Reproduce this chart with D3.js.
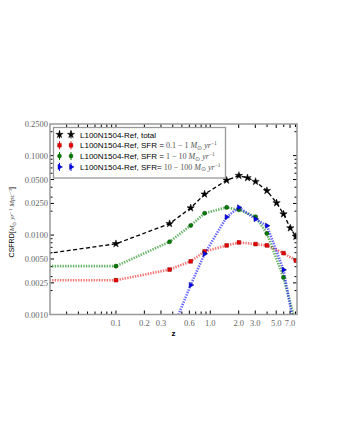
<!DOCTYPE html>
<html>
<head>
<meta charset="utf-8">
<script src="https://cdn.jsdelivr.net/npm/d3@7"></script>
<style>
    body { margin: 0; background: #fff; }
</style>
</head>
<body>
<div id="chart"></div>
<script>
// redshifts of the snapshots
var zTotal = [0.01, 0.1, 0.37, 0.62, 0.87, 1.49, 2.01, 2.48, 3.02, 3.98, 5.04, 5.97, 7.05, 8.07];
var csfrdTotal = [0.00527, 0.00776, 0.0139, 0.0219, 0.0327, 0.0489, 0.0561, 0.0525, 0.0471, 0.0362, 0.0254, 0.0184, 0.01225, 0.0096];

var zBins = [0.001, 0.1, 0.37, 0.62, 0.87, 1.49, 2.01, 3.02, 3.98, 5.97, 8.07];
var csfrdLow = [0.0027, 0.0027, 0.00368, 0.00467, 0.00621, 0.0074, 0.00807, 0.0077, 0.0074, 0.00593, 0.00477];
var csfrdMid = [0.00406, 0.00406, 0.00822, 0.0132, 0.0188, 0.0223, 0.0208, 0.017, 0.01047, 0.00292, 0.00077];

var zHigh = [0.37, 0.62, 0.87, 1.49, 2.01, 3.02, 3.98, 5.97, 8.07];
var csfrdHigh = [0.00053, 0.00235, 0.00581, 0.01686, 0.0223, 0.0159, 0.0131, 0.00365, 0.00054];

var xTickLabels = [0.1, 0.2, 0.3, 0.6, 1.0, 2.0, 3.0, 5.0, 7.0];
var yTickLabels = [0.001, 0.0025, 0.005, 0.01, 0.025, 0.05, 0.1, 0.25];

var legendLabels = [
    { text: "L100N1504-Ref, total", math: "" },
    { text: "L100N1504-Ref, SFR = ", math: "0.1 \u2212 1" },
    { text: "L100N1504-Ref, SFR = ", math: "1 \u2212 10" },
    { text: "L100N1504-Ref, SFR= ", math: "10 \u2212 100" }
];

function init() {
    var w = 340;
    var h = 440;
    var left = 50, right = 297, top = 124, bottom = 314.5;

    var svg = d3.select("#chart")
        .append("svg")
        .attr("width", w)
        .attr("height", h);

    var x = d3.scaleLog().domain([0.02, 8.3]).range([left, right]);
    var y = d3.scaleLog().domain([0.001, 0.25]).range([bottom, top]);

    svg.append("clipPath")
        .attr("id", "plotclip")
        .append("rect")
        .attr("x", left)
        .attr("y", top)
        .attr("width", right - left)
        .attr("height", bottom - top);

    // minor ticks: every 1..9 x 10^k inside the domain
    function minorTicks(domain) {
        var t = [];
        for (var e = -4; e <= 1; e++) {
            for (var m = 1; m <= 9; m++) {
                var v = m * Math.pow(10, e);
                if (v > domain[0] * 1.0001 && v < domain[1] * 0.9999) t.push(v);
            }
        }
        return t;
    }

    var xMinor = minorTicks(x.domain());
    var yMinor = minorTicks(y.domain());

    var ticks = svg.append("g").attr("stroke", "#000").attr("stroke-width", 1);

    // x ticks, bottom and top, pointing inward
    ticks.selectAll(".xb")
        .data(xMinor)
        .enter()
        .append("line")
        .attr("x1", function (d) { return x(d); })
        .attr("x2", function (d) { return x(d); })
        .attr("y1", bottom)
        .attr("y2", function (d) { return xTickLabels.indexOf(+d.toFixed(2)) >= 0 ? bottom - 4 : bottom - 3; });
    ticks.selectAll(".xt")
        .data(xMinor)
        .enter()
        .append("line")
        .attr("x1", function (d) { return x(d); })
        .attr("x2", function (d) { return x(d); })
        .attr("y1", top)
        .attr("y2", function (d) { return xTickLabels.indexOf(+d.toFixed(2)) >= 0 ? top + 4 : top + 3; });

    // y ticks, left and right
    var yAll = yMinor.concat([0.0025, 0.025]);
    ticks.selectAll(".yl")
        .data(yAll)
        .enter()
        .append("line")
        .attr("y1", function (d) { return y(d); })
        .attr("y2", function (d) { return y(d); })
        .attr("x1", left)
        .attr("x2", function (d) { return isMajorY(d) ? left + 4 : left + 2.5; });
    ticks.selectAll(".yr")
        .data(yAll)
        .enter()
        .append("line")
        .attr("y1", function (d) { return y(d); })
        .attr("y2", function (d) { return y(d); })
        .attr("x1", right)
        .attr("x2", function (d) { return isMajorY(d) ? right - 4 : right - 2.5; });

    function isMajorY(d) {
        for (var i = 0; i < yTickLabels.length; i++) {
            if (Math.abs(d / yTickLabels[i] - 1) < 1e-6) return true;
        }
        return false;
    }

    // tick labels
    svg.selectAll(".xlab")
        .data(xTickLabels)
        .enter()
        .append("text")
        .text(function (d) { return d.toFixed(1); })
        .attr("x", function (d) { return x(d); })
        .attr("y", bottom + 11.5)
        .attr("text-anchor", "middle")
        .attr("font-family", "Liberation Serif, serif")
        .attr("font-size", "8.5px")
        .attr("fill", "#666");

    svg.selectAll(".ylab")
        .data(yTickLabels)
        .enter()
        .append("text")
        .text(function (d) { return d.toFixed(4); })
        .attr("x", left - 2)
        .attr("y", function (d) { return y(d) + 3; })
        .attr("text-anchor", "end")
        .attr("font-family", "Liberation Serif, serif")
        .attr("font-size", "8.5px")
        .attr("fill", "#666");

    // axis titles
    svg.append("text")
        .text("z")
        .attr("x", (left + right) / 2)
        .attr("y", bottom + 21)
        .attr("text-anchor", "middle")
        .attr("font-family", "Liberation Sans, sans-serif")
        .attr("font-weight", "bold")
        .attr("font-size", "8px");

    var ylab = svg.append("text")
        .attr("transform", "translate(14," + ((top + bottom) / 2 + 3) + ") rotate(-90)")
        .attr("text-anchor", "middle")
        .attr("font-family", "Liberation Sans, sans-serif")
        .attr("font-size", "7px");
    ylab.append("tspan").text("CSFRD[");
    ylab.append("tspan").attr("font-family", "Liberation Serif, serif").attr("font-style", "italic").attr("fill", "#444").text("M");
    ylab.append("tspan").attr("font-family", "Liberation Serif, serif").attr("font-size", "5px").attr("dy", 1.5).attr("fill", "#444").text("\u2299");
    ylab.append("tspan").attr("font-family", "Liberation Serif, serif").attr("font-style", "italic").attr("dy", -1.5).attr("fill", "#444").text(" yr");
    ylab.append("tspan").attr("font-family", "Liberation Serif, serif").attr("font-size", "5px").attr("dy", -2.5).attr("fill", "#444").text("\u22121");
    ylab.append("tspan").attr("font-family", "Liberation Serif, serif").attr("font-style", "italic").attr("dy", 2.5).attr("fill", "#444").text(" Mpc");
    ylab.append("tspan").attr("font-family", "Liberation Serif, serif").attr("font-size", "5px").attr("dy", -2.5).attr("fill", "#444").text("\u22123");
    ylab.append("tspan").attr("dy", 2.5).text("]");

    // series
    var plot = svg.append("g").attr("clip-path", "url(#plotclip)");

    var series = [
        { z: zTotal, v: csfrdTotal, color: "#000", edge: "#000", dash: "4,2.5", width: 1.3, opacity: 1, marker: d3.symbolStar, size: 17 },
        { z: zBins, v: csfrdLow, color: "#ee0000", edge: "#800000", dash: "1.4,1.2", width: 2.6, opacity: 0.55, marker: d3.symbolSquare, size: 14 },
        { z: zBins, v: csfrdMid, color: "#008000", edge: "#003300", dash: "1.4,1.2", width: 2.6, opacity: 0.6, marker: d3.symbolCircle, size: 13 },
        { z: zHigh, v: csfrdHigh, color: "#0000ff", edge: "#000066", dash: "1.4,1.2", width: 2.6, opacity: 0.6, marker: d3.symbolTriangle, size: 12 }
    ];

    var line = d3.line()
        .x(function (d) { return x(d[0]); })
        .y(function (d) { return y(d[1]); });

    series.forEach(function (s) {
        var pts = d3.zip(s.z, s.v);
        plot.append("path")
            .datum(pts)
            .attr("d", line)
            .attr("fill", "none")
            .attr("stroke", s.color)
            .attr("stroke-opacity", s.opacity)
            .attr("stroke-width", s.width)
            .attr("stroke-dasharray", s.dash);
    });

    series.forEach(function (s) {
        var pts = d3.zip(s.z, s.v);
        plot.selectAll(null)
            .data(pts)
            .enter()
            .append("path")
            .attr("d", d3.symbol().type(s.marker).size(s.size))
            .attr("transform", function (d) {
                var rot = s.marker === d3.symbolTriangle ? " rotate(90)" : "";
                return "translate(" + x(d[0]) + "," + y(d[1]) + ")" + rot;
            })
            .attr("fill", s.color)
            .attr("stroke", s.edge)
            .attr("stroke-width", 0.5);
    });

    // frame
    svg.append("rect")
        .attr("x", left)
        .attr("y", top)
        .attr("width", right - left)
        .attr("height", bottom - top)
        .attr("fill", "none")
        .attr("stroke", "#999")
        .attr("stroke-width", 1.5);

    // legend
    var legend = svg.append("g");
    legend.append("rect")
        .attr("x", 53.5)
        .attr("y", 127.5)
        .attr("width", 172)
        .attr("height", 50.5)
        .attr("fill", "#fff")
        .attr("stroke", "#999")
        .attr("stroke-width", 1.3);

    var rows = legend.selectAll(".row")
        .data(series)
        .enter()
        .append("g")
        .attr("transform", function (d, i) { return "translate(0," + (134.5 + i * 10.8) + ")"; });

    [59.5, 71].forEach(function (mx) {
        rows.append("line")
            .attr("x1", mx)
            .attr("x2", mx)
            .attr("y1", -4)
            .attr("y2", 4)
            .attr("stroke", function (d) { return d.color; })
            .attr("stroke-width", 1);
        rows.append("path")
            .attr("d", function (d) { return d3.symbol().type(d.marker).size(d.size)(); })
            .attr("transform", function (d) {
                return "translate(" + mx + ",0)" + (d.marker === d3.symbolTriangle ? " rotate(90)" : "");
            })
            .attr("fill", function (d) { return d.color; })
            .attr("stroke", function (d) { return d.edge; })
            .attr("stroke-width", 0.4);
    });

    var labels = rows.append("text")
        .attr("x", 80)
        .attr("y", 3)
        .attr("font-family", "Liberation Sans, sans-serif")
        .attr("font-size", "8px")
        .attr("fill", "#000");

    labels.each(function (d, i) {
        var t = d3.select(this);
        var lab = legendLabels[i];
        t.append("tspan").text(lab.text);
        if (lab.math) {
            var serif = "Liberation Serif, serif";
            t.append("tspan").attr("font-family", serif).attr("fill", "#555").text(lab.math + " ");
            t.append("tspan").attr("font-family", serif).attr("font-style", "italic").attr("fill", "#555").text("M");
            t.append("tspan").attr("font-family", serif).attr("font-size", "5.5px").attr("dy", 1.5).attr("fill", "#555").text("\u2299");
            t.append("tspan").attr("font-family", serif).attr("font-style", "italic").attr("dy", -1.5).attr("fill", "#555").text(" yr");
            t.append("tspan").attr("font-family", serif).attr("font-size", "5.5px").attr("dy", -3).attr("fill", "#555").text("\u22121");
        }
    });
}

window.onload = init;
</script>
</body>
</html>
